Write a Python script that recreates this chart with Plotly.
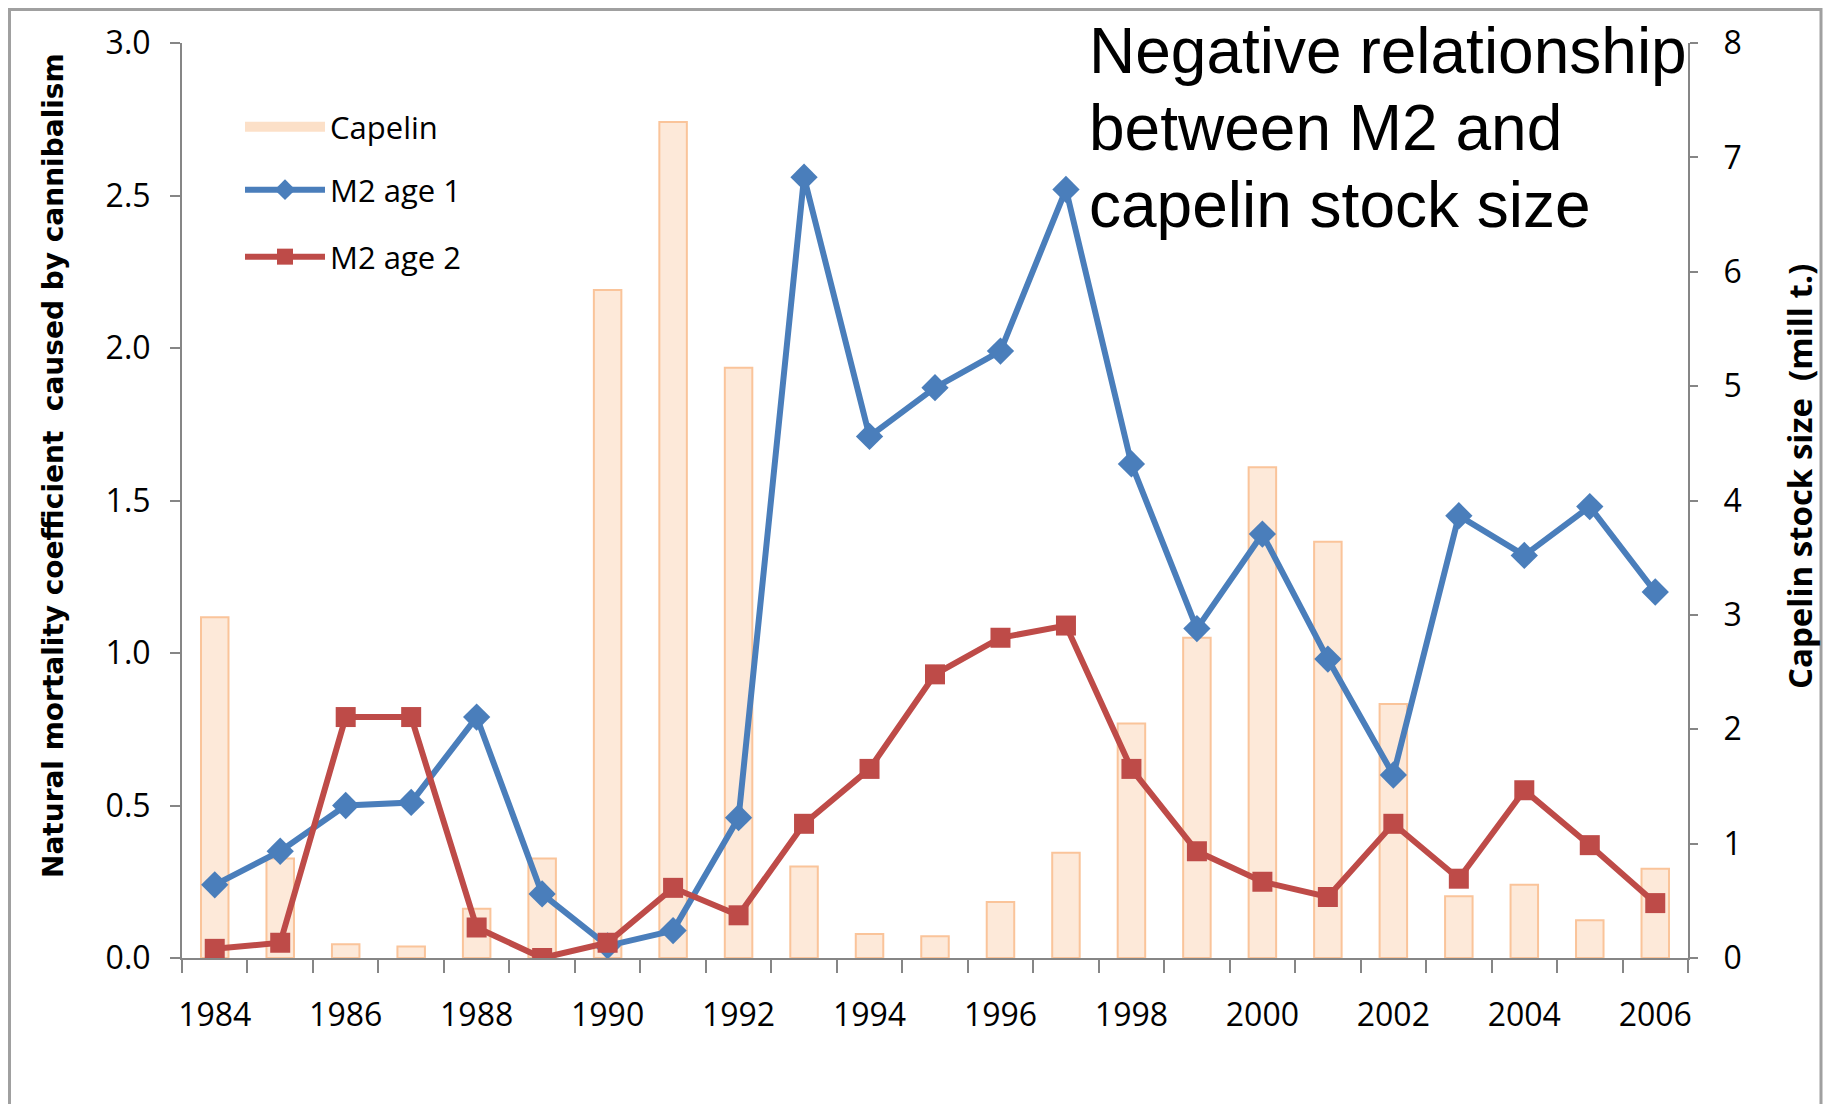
import plotly.graph_objects as go

# ---- data ----
years = list(range(1984, 2007))
capelin = [2.98, 0.87, 0.12, 0.10, 0.43, 0.87, 5.84, 7.31, 5.16, 0.80, 0.21, 0.19,
           0.49, 0.92, 2.05, 2.80, 4.29, 3.64, 2.22, 0.54, 0.64, 0.33, 0.78]
m2_age1 = [0.24, 0.35, 0.50, 0.51, 0.79, 0.21, 0.04, 0.09, 0.46, 2.56, 1.71, 1.87,
           1.99, 2.52, 1.62, 1.08, 1.39, 0.98, 0.60, 1.45, 1.32, 1.48, 1.20]
m2_age2 = [0.03, 0.05, 0.79, 0.79, 0.10, 0.00, 0.05, 0.23, 0.14, 0.44, 0.62, 0.93,
           1.05, 1.09, 0.62, 0.35, 0.25, 0.20, 0.44, 0.26, 0.55, 0.37, 0.18]
label_years = years[::2]

OFF = 8                      # default body margin of the html page
W, H = 1835 - OFF, 1104 - OFF
# plot area in screen pixels of the reference
SL, SR, ST, SB = 182, 1688, 43, 958
L, R, T, B = SL - OFF, SR - OFF, ST - OFF, SB - OFF


def px(x):
    """screen x -> paper fraction"""
    return (x - SL) / (SR - SL)


def py(y):
    """screen y -> paper fraction"""
    return (SB - y) / (SB - ST)


AXIS = "#868686"
TICKFONT = dict(family="Open Sans", size=32, color="black")

fig = go.Figure()

fig.add_trace(go.Bar(
    x=years, y=capelin, name="Capelin", yaxis="y", width=0.42,
    marker=dict(color="#FDE9D9", line=dict(color="#FAC49A", width=2)),
    showlegend=False,
))
# legend-only swatch for the bars
fig.add_trace(go.Scatter(
    x=[None], y=[None], mode="lines", name="Capelin", yaxis="y",
    line=dict(color="#FCE0C8", width=20), legend="legend",
))
fig.add_trace(go.Scatter(
    x=years, y=m2_age1, name="M2 age 1", yaxis="y2", mode="lines+markers",
    line=dict(color="#4A7EBB", width=6),
    marker=dict(symbol="diamond", size=21, color="#4A7EBB"),
    legend="legend2",
))
fig.add_trace(go.Scatter(
    x=years, y=m2_age2, name="M2 age 2", yaxis="y2", mode="lines+markers",
    line=dict(color="#BE4B48", width=6),
    marker=dict(symbol="square", size=20, color="#BE4B48"),
    legend="legend3",
))

leg_common = dict(xref="paper", yref="paper", xanchor="left", yanchor="middle",
                  bgcolor="rgba(0,0,0,0)", itemwidth=80,
                  font=dict(family="Open Sans", size=31, color="black"))
lx = px(240)

fig.update_layout(
    width=W, height=H,
    margin=dict(l=L, r=W - R, t=T, b=H - B, pad=0),
    plot_bgcolor="white", paper_bgcolor="white",
    xaxis=dict(
        range=[1983.5, 2006.5], tickvals=label_years,
        ticktext=[str(y) for y in label_years],
        ticks="outside", ticklen=13, tickcolor="rgba(0,0,0,0)",
        showline=True, linecolor=AXIS, linewidth=2,
        showgrid=False, zeroline=False, tickfont=TICKFONT,
        ticklabelstandoff=15,
        minor=dict(ticks="outside", ticklen=13, tickwidth=2, tickcolor=AXIS,
                   tick0=1983.5, dtick=1, showgrid=False),
    ),
    yaxis=dict(
        range=[0, 8], dtick=1, side="right",
        ticks="outside", ticklen=8, tickwidth=2, tickcolor=AXIS,
        showline=True, linecolor=AXIS, linewidth=2,
        showgrid=False, zeroline=False, tickfont=TICKFONT,
        ticklabelstandoff=19,
    ),
    yaxis2=dict(
        range=[0, 3], dtick=0.5, tickformat=".1f", side="left", overlaying="y",
        ticks="outside", ticklen=10, tickwidth=2, tickcolor=AXIS,
        showline=True, linecolor=AXIS, linewidth=2,
        showgrid=False, zeroline=False, tickfont=TICKFONT,
        ticklabelstandoff=13,
    ),
    legend=dict(x=lx, y=py(127), **leg_common),
    legend2=dict(x=lx, y=py(190), **leg_common),
    legend3=dict(x=lx, y=py(257), **leg_common),
    showlegend=True,
)

# outer frame (kept just inside the drawing surface)
fig.add_shape(type="rect", xref="paper", yref="paper",
              x0=px(9.5), x1=px(1821), y0=py(1200), y1=py(9.5),
              line=dict(color="#A0A0A0", width=3), fillcolor="rgba(0,0,0,0)",
              layer="above")

# axis titles
fig.add_annotation(
    text="Natural mortality coefficient  caused by cannibalism",
    xref="paper", yref="paper", x=px(53), y=py(466), textangle=-90,
    showarrow=False, xanchor="center", yanchor="middle",
    font=dict(family="DejaVu Sans", size=28, color="black", weight="bold"),
)
fig.add_annotation(
    text="Capelin stock size  (mill t.)",
    xref="paper", yref="paper", x=px(1800), y=py(477), textangle=-90,
    showarrow=False, xanchor="center", yanchor="middle",
    font=dict(family="Open Sans", size=33, color="black", weight="bold"),
)

# heading text
for line, base in [("Negative relationship", 73),
                   ("between M2 and", 150),
                   ("capelin stock size", 227)]:
    fig.add_annotation(
        text=line, xref="paper", yref="paper", x=px(1087), y=py(base - 22),
        showarrow=False, xanchor="left", yanchor="middle",
        font=dict(family="Liberation Sans", size=64, color="black"),
    )

fig.write_html("out.html")
